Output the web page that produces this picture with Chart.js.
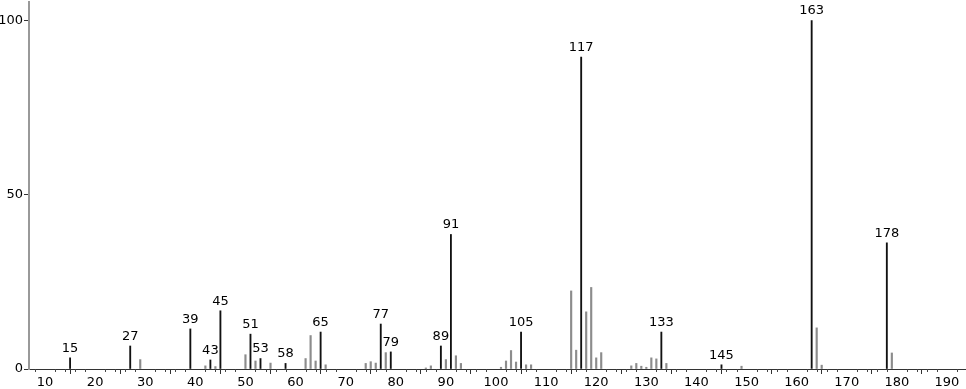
<!DOCTYPE html>
<html>
<head>
<meta charset="utf-8">
<script src="https://cdn.jsdelivr.net/npm/chart.js@4.4.0/dist/chart.umd.min.js"></script>
<style>
  html, body { margin: 0; padding: 0; background: #fff; }
  #wrap { width: 966px; height: 389px; position: relative; }
</style>
</head>
<body>
<div id="wrap"><canvas id="c" width="966" height="389"></canvas></div>
<script>
// m/z values and relative intensities (%)
const mzValues = [15,27,29,39,42,43,44,45,50,51,52,53,55,58,62,63,64,65,66,74,75,76,77,78,79,86,87,89,90,91,92,93,101,102,103,104,105,106,107,115,116,117,118,119,120,121,127,128,129,130,131,132,133,134,145,149,163,164,165,178,179];
const intensities = [3.2,6.6,2.7,11.5,0.9,2.6,0.7,16.7,4.1,10.0,2.3,3.0,1.7,1.6,3.0,9.6,2.3,10.6,1.2,1.6,2.1,1.7,12.9,4.7,4.9,0.3,0.9,6.6,2.7,38.6,3.8,1.6,0.5,2.3,5.3,2.0,10.6,1.2,1.2,22.4,5.4,89.5,16.4,23.4,3.2,4.7,0.9,1.6,0.8,0.5,3.2,2.9,10.6,1.6,1.2,0.8,100,11.8,1.1,36.2,4.6];
// peaks that carry a label
const labeledPeaks = [15,27,39,43,45,51,53,58,65,77,79,89,91,105,117,133,145,163,178];
const xTickValues = [10,20,30,40,50,60,70,80,90,100,110,120,130,140,150,160,170,180,190];
const yTickValues = [0,50,100];

const labeledData = [];
const otherData = [];
mzValues.forEach((m, i) => {
  const pt = { x: m, y: intensities[i] };
  if (labeledPeaks.includes(m)) labeledData.push(pt); else otherData.push(pt);
});

const FONT = '"DejaVu Sans ExtraLight", "DejaVu Sans", sans-serif';

const peakLabelPlugin = {
  id: 'peakLabels',
  afterDatasetsDraw(chart) {
    const ctx = chart.ctx;
    const xs = chart.scales.x, ys = chart.scales.y;
    ctx.save();
    ctx.font = '13px ' + FONT;
    ctx.fillStyle = '#000';
    ctx.textAlign = 'center';
    ctx.textBaseline = 'bottom';
    labeledData.forEach(p => {
      ctx.fillText(String(p.x), xs.getPixelForValue(p.x), ys.getPixelForValue(p.y) - 3);
    });
    ctx.restore();
  }
};

const minorTickPlugin = {
  id: 'minorTicks',
  afterDraw(chart) {
    const ctx = chart.ctx;
    const xs = chart.scales.x;
    const y0 = chart.chartArea.bottom;
    ctx.save();
    ctx.strokeStyle = '#444';
    ctx.lineWidth = 1;
    for (let v = 8; v <= 192; v += 2) {
      if (v % 10 === 0) continue;
      const px = Math.round(xs.getPixelForValue(v)) + 0.5;
      ctx.beginPath();
      ctx.moveTo(px, y0);
      ctx.lineTo(px, y0 + 3);
      ctx.stroke();
    }
    ctx.restore();
  }
};

new Chart(document.getElementById('c'), {
  type: 'bar',
  data: {
    datasets: [
      { data: otherData, backgroundColor: '#8c8c8c', barThickness: 1.5, grouped: false },
      { data: labeledData, backgroundColor: '#111', barThickness: 1.2, grouped: false }
    ]
  },
  options: {
    responsive: false,
    animation: false,
    devicePixelRatio: 1,
    layout: { padding: { top: 2, right: 0, left: 0, bottom: 0 } },
    plugins: { legend: { display: false }, tooltip: { enabled: false } },
    scales: {
      x: {
        type: 'linear',
        min: 6.8,
        max: 193.8,
        offset: false,
        afterFit(scale) { scale.height = 20; scale.paddingLeft = 0; scale.paddingRight = 0; },
        afterBuildTicks(scale) { scale.ticks = xTickValues.map(v => ({ value: v })); },
        grid: { drawOnChartArea: false, tickLength: 5, tickColor: '#333', drawTicks: true },
        border: { color: '#333', width: 1 },
        ticks: { font: { family: FONT, size: 13 }, color: '#000', padding: 1, maxRotation: 0, autoSkip: false }
      },
      y: {
        min: 0,
        max: 105.3,
        afterFit(scale) { scale.width = 29; scale.paddingTop = 0; scale.paddingBottom = 0; },
        afterBuildTicks(scale) { scale.ticks = yTickValues.map(v => ({ value: v })); },
        grid: { drawOnChartArea: false, tickLength: 5, tickColor: '#333' },
        border: { color: '#999', width: 2 },
        ticks: { font: { family: FONT, size: 13 }, color: '#000', padding: 1 }
      }
    }
  },
  plugins: [peakLabelPlugin, minorTickPlugin]
});
</script>
</body>
</html>
